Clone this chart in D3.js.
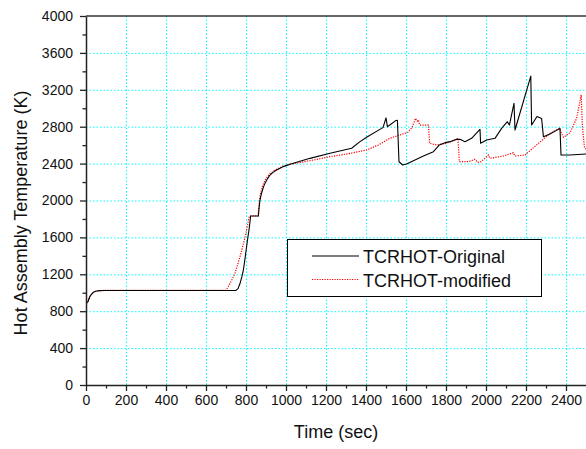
<!DOCTYPE html>
<html>
<head>
<meta charset="utf-8">
<script src="https://cdn.jsdelivr.net/npm/d3@7"></script>
<style>
  html, body { margin: 0; padding: 0; background: #fff; }
  svg { display: block; font-family: "Liberation Sans", Arial, sans-serif; }
</style>
</head>
<body>
<svg id="chart" width="586" height="449"></svg>
<script>
// Hot assembly temperature history, original vs modified model
const xTicks = [0, 200, 400, 600, 800, 1000, 1200, 1400, 1600, 1800, 2000, 2200, 2400];
const yTicks = [0, 400, 800, 1200, 1600, 2000, 2400, 2800, 3200, 3600, 4000];
const seriesNames = ["TCRHOT-Original", "TCRHOT-modified"];

const timeOriginal = [0, 5, 10, 15, 20, 28, 35, 45, 55, 70, 90, 750, 760, 770, 780, 787, 795, 803, 810, 815, 820, 823, 862, 865, 870, 875, 880, 887, 895, 907, 920, 935, 953, 970, 985, 1000, 1020, 1120, 1220, 1328, 1370, 1403, 1478, 1485, 1500, 1507, 1550, 1557, 1565, 1583, 1603, 1637, 1687, 1737, 1767, 1795, 1820, 1853, 1870, 1895, 1928, 1970, 1973, 2003, 2045, 2078, 2107, 2117, 2140, 2145, 2224, 2228, 2255, 2278, 2287, 2320, 2370, 2375, 2420, 2500];
const tempOriginal = [896, 893, 905, 935, 962, 985, 1002, 1013, 1019, 1023, 1025, 1025, 1045, 1100, 1180, 1247, 1370, 1499, 1610, 1680, 1770, 1832, 1832, 1915, 2005, 2055, 2095, 2145, 2186, 2235, 2276, 2305, 2330, 2350, 2366, 2378, 2392, 2457, 2512, 2566, 2638, 2685, 2782, 2790, 2895, 2800, 2868, 2870, 2420, 2385, 2396, 2432, 2482, 2529, 2602, 2627, 2638, 2663, 2663, 2638, 2674, 2772, 2620, 2656, 2674, 2782, 2854, 2818, 3053, 2764, 3349, 2818, 2910, 2890, 2692, 2721, 2782, 2493, 2493, 2504];

const timeModified = [0, 5, 10, 15, 20, 28, 35, 45, 55, 70, 90, 695, 705, 712, 720, 732, 745, 757, 770, 781, 792, 800, 808, 813, 817, 860, 863, 867, 872, 880, 887, 895, 907, 920, 935, 953, 970, 985, 1000, 1020, 1120, 1220, 1320, 1403, 1462, 1520, 1570, 1610, 1630, 1648, 1656, 1662, 1668, 1712, 1718, 1753, 1803, 1853, 1860, 1867, 1912, 1945, 1958, 1975, 2012, 2020, 2087, 2137, 2145, 2195, 2253, 2320, 2367, 2387, 2420, 2453, 2476, 2482, 2492, 2500];
const tempModified = [896, 893, 905, 935, 962, 985, 1002, 1013, 1019, 1023, 1025, 1025, 1045, 1070, 1102, 1150, 1211, 1295, 1391, 1480, 1572, 1650, 1734, 1790, 1832, 1832, 1900, 1990, 2070, 2140, 2180, 2220, 2260, 2290, 2315, 2340, 2357, 2372, 2381, 2392, 2432, 2475, 2510, 2547, 2602, 2675, 2710, 2740, 2790, 2891, 2860, 2873, 2818, 2818, 2620, 2602, 2620, 2663, 2674, 2421, 2421, 2446, 2414, 2420, 2493, 2457, 2482, 2518, 2482, 2493, 2602, 2728, 2782, 2685, 2735, 2891, 3144, 2800, 2583, 2555];

const svg = d3.select("#chart");
const plotLeft = 86, plotRight = 586, plotTop = 16, plotBottom = 385;

const x = d3.scaleLinear().domain([0, 2500]).range([plotLeft, plotRight]);
const y = d3.scaleLinear().domain([0, 4000]).range([plotBottom, plotTop]);

// dotted cyan grid at major ticks
const grid = svg.append("g");
grid.selectAll("line.gx").data(xTicks.filter(d => d > 0))
  .join("line")
  .attr("x1", d => x(d) + 0.5).attr("x2", d => x(d) + 0.5)
  .attr("y1", plotTop).attr("y2", plotBottom)
  .attr("stroke", "#00ffff").attr("stroke-width", 1)
  .attr("stroke-dasharray", "1.5,2");
grid.selectAll("line.gy").data(yTicks.filter(d => d > 0 && d < 4000))
  .join("line")
  .attr("y1", d => y(d) + 0.5).attr("y2", d => y(d) + 0.5)
  .attr("x1", plotLeft).attr("x2", plotRight)
  .attr("stroke", "#00ffff").attr("stroke-width", 1)
  .attr("stroke-dasharray", "1.5,2");

// curves clipped to the plot area
svg.append("clipPath").attr("id", "plot")
  .append("rect").attr("x", plotLeft).attr("y", plotTop)
  .attr("width", plotRight - plotLeft).attr("height", plotBottom - plotTop);

const line = d3.line()
  .x(d => x(d[0])).y(d => y(d[1]))
  .curve(d3.curveLinear);

const curves = svg.append("g").attr("clip-path", "url(#plot)");
curves.append("path")
  .datum(timeModified.map((t, i) => [t, tempModified[i]]))
  .attr("d", line)
  .attr("fill", "none").attr("stroke", "#ff0000")
  .attr("stroke-width", 1.2).attr("stroke-dasharray", "1.2,1.3");
curves.append("path")
  .datum(timeOriginal.map((t, i) => [t, tempOriginal[i]]))
  .attr("d", line)
  .attr("fill", "none").attr("stroke", "#000")
  .attr("stroke-width", 1.1)
  .attr("stroke-linejoin", "round");

// axes: major ticks labelled, minor ticks between them
const xMinor = d3.range(100, 2500, 200);
const yMinor = d3.range(200, 4000, 400);
const fmt = d3.format("d");

svg.append("g").attr("transform", `translate(0,${plotBottom})`)
  .call(d3.axisBottom(x).tickValues(xTicks).tickFormat(fmt).tickSize(6).tickSizeOuter(0).tickPadding(4));
svg.append("g").attr("transform", `translate(0,${plotBottom})`)
  .call(d3.axisBottom(x).tickValues(xMinor).tickSize(3.5).tickSizeOuter(0).tickFormat(""))
  .call(g => g.select(".domain").remove());

svg.append("g").attr("transform", `translate(${plotLeft},0)`)
  .call(d3.axisLeft(y).tickValues(yTicks).tickFormat(fmt).tickSize(6).tickSizeOuter(0).tickPadding(7));
svg.append("g").attr("transform", `translate(${plotLeft},0)`)
  .call(d3.axisLeft(y).tickValues(yMinor).tickSize(3.5).tickSizeOuter(0).tickFormat(""))
  .call(g => g.select(".domain").remove());

svg.selectAll(".tick line").attr("stroke", "#222").attr("stroke-width", 1.3);
svg.selectAll(".domain").attr("stroke", "#222").attr("stroke-width", 1.5);
svg.selectAll(".tick text")
  .attr("font-family", "Liberation Sans, Arial, sans-serif")
  .attr("font-size", 14).attr("fill", "#111");

// top frame line
svg.append("line")
  .attr("x1", plotLeft).attr("x2", plotRight).attr("y1", plotTop).attr("y2", plotTop)
  .attr("stroke", "#333").attr("stroke-width", 1.5);

// axis titles
svg.append("text")
  .attr("x", (plotLeft + plotRight) / 2).attr("y", 438)
  .attr("text-anchor", "middle").attr("font-size", 18).attr("fill", "#111")
  .text("Time (sec)");
svg.append("text")
  .attr("transform", "translate(27,213) rotate(-90)")
  .attr("text-anchor", "middle").attr("font-size", 18).attr("fill", "#111")
  .text("Hot Assembly Temperature (K)");

// legend
const legend = svg.append("g");
legend.append("rect")
  .attr("x", 287.5).attr("y", 239.5).attr("width", 254).attr("height", 57)
  .attr("fill", "#fff").attr("stroke", "#000").attr("stroke-width", 1);
const rows = [
  { name: seriesNames[0], color: "#000", dash: null, yl: 256, yt: 263 },
  { name: seriesNames[1], color: "#ff0000", dash: "1.2,1.3", yl: 279.5, yt: 286.5 }
];
rows.forEach(r => {
  legend.append("line")
    .attr("x1", 312).attr("x2", 359).attr("y1", r.yl).attr("y2", r.yl)
    .attr("stroke", r.color).attr("stroke-width", 1.1)
    .attr("stroke-dasharray", r.dash);
  legend.append("text")
    .attr("x", 363).attr("y", r.yt)
    .attr("font-size", 18).attr("fill", "#111")
    .text(r.name);
});
</script>
</body>
</html>
